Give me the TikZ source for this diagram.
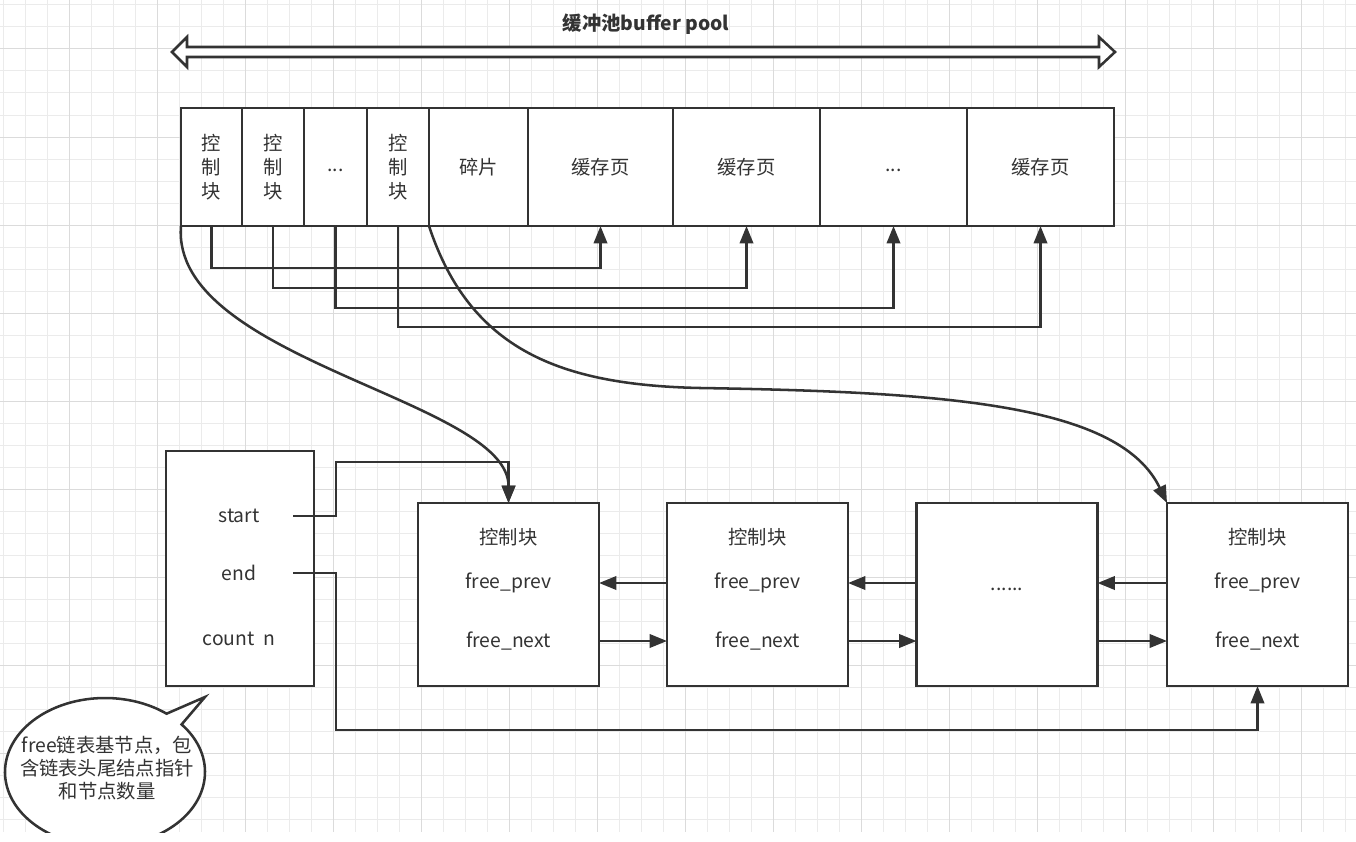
\documentclass[tikz,border=0pt]{standalone}
\usepackage{fontspec}
\setmainfont{Noto Sans CJK SC}
\usetikzlibrary{arrows.meta,positioning,calc}
\tikzset{
	ln/.style={draw=black!80, line width=1.9pt},
	cell/.style={ln, fill=white, minimum height=88.5pt, inner sep=0pt, outer sep=0pt, align=center},
	lnode/.style={ln, fill=white, minimum width=135.75pt, minimum height=137.25pt, inner sep=0pt, outer sep=0pt},
	arr/.style={ln, -{Triangle[length=13pt,width=10pt]}},
	gridminor/.style={draw=black!8, line width=0.75pt},
	gridmajor/.style={draw=black!14, line width=0.75pt},
}

\begin{document}
\begin{tikzpicture}[x=0.75pt, y=-0.75pt, every node/.style={font=\fontsize{14.5}{18}\selectfont, text=black!80}]
		%%%%% START %%%%%
		\useasboundingbox (0,0) rectangle (1356,842);
		\fill[white] (0,0) rectangle (1356,842);
		
		\foreach \gx in {3,25,...,1345} \draw[gridminor] (\gx,0) -- (\gx,832);
		\foreach \gy in {5,27,...,819} \draw[gridminor] (0,\gy) -- (1356,\gy);
		\foreach \gx in {69,157,...,1301} \draw[gridmajor] (\gx,0) -- (\gx,832);
		\foreach \gy in {49,137,...,753} \draw[gridmajor] (0,\gy) -- (1356,\gy);
		
		\node[font=\fontsize{14.5}{18}\selectfont\bfseries] (ttl) at (646,24) {缓冲池buffer pool};
		\draw[ln, fill=white, line join=miter] (187,47) -- (1099,47) -- (1099,37) -- (1115,52) -- (1099,67) -- (1099,57) -- (187,57) -- (187,67) -- (172,52) -- (187,37) -- cycle;
		
		\node[cell, minimum width=45.75pt, anchor=west] (c1) at (181,167) {控\\制\\块};
		\node[cell, minimum width=46.5pt, right=0pt of c1] (c2) {控\\制\\块};
		\node[cell, minimum width=47.25pt, right=0pt of c2] (c3) {...\strut};
		\node[cell, minimum width=46.5pt, right=0pt of c3] (c4) {控\\制\\块};
		\node[cell, minimum width=74.25pt, right=0pt of c4] (frag) {碎片};
		\node[cell, minimum width=108.75pt, right=0pt of frag] (p1) {缓存页};
		\node[cell, minimum width=110.25pt, right=0pt of p1] (p2) {缓存页};
		\node[cell, minimum width=110.25pt, right=0pt of p2] (p3) {...\strut};
		\node[cell, minimum width=110.25pt, right=0pt of p3] (p4) {缓存页};
		
		\draw[arr] (c1.south) -- ++(0,42) -| (p1.south);
		\draw[arr] (c2.south) -- ++(0,62) -| (p2.south);
		\draw[arr] (c3.south) -- ++(0,82) -| (p3.south);
		\draw[arr] (c4.south) -- ++(0,101) -| (p4.south);
		
		\node[lnode, minimum width=111pt, minimum height=176.25pt] (hd) at (240,568.5) {};
		\node (st) at (239,516) {start};
		\node (en) at (239,573) {end};
		\node (cnt) at (239,639) {count\ \ n};
		
		\node[lnode] (cb1) at (508.5,594.5) {};
		\node[lnode] (cb2) at (757.5,594.5) {};
		\node[lnode] (cbm) at (1007,594.5) {};
		\node[lnode] (cb4) at (1257.5,594.5) {};
		\node[anchor=base] (dots) at (1007,590) {......};
		\foreach \n in {cb1,cb2,cb4} {
			\node (tt\n) at ($(\n.north)+(0,34)$) {控制块};
			\node (pv\n) at ($(\n.north)+(0,80)$) {free\_prev};
			\node (nx\n) at ($(\n.north)+(0,138)$) {free\_next};
		}
		
		\draw[arr] (cb2.west |- pvcb1) -- (cb1.east |- pvcb1);
		\draw[arr] (cb1.east |- nxcb1) -- (cb2.west |- nxcb1);
		\draw[arr] (cbm.west |- pvcb1) -- (cb2.east |- pvcb1);
		\draw[arr] (cb2.east |- nxcb1) -- (cbm.west |- nxcb1);
		\draw[arr] (cb4.west |- pvcb1) -- (cbm.east |- pvcb1);
		\draw[arr] (cbm.east |- nxcb1) -- (cb4.west |- nxcb1);
		
		\coordinate (so) at (293,516);
		\coordinate (eo) at (293,573);
		\draw[arr] (so) -- ++(43,0) |- ($(cb1.north)+(0,-41)$) -- (cb1.north);
		\draw[arr] (eo) -- ++(43,0) |- ($(cb4.south)+(0,44)$) -- (cb4.south);
		
		\draw[arr] (c1.south west) .. controls (170,360) and (509,400) .. (cb1.north);
		\draw[arr] (c4.south east) .. controls (470,350) and (560,385) .. (700,388) .. controls (950,392) and (1120,405) .. (cb4.north west);
		
		\begin{scope}
			\clip (0,0) rectangle (1356,832);
			\draw[ln, fill=white] (205,697) -- ($(105,772)+(-40:100 and 74)$) arc[start angle=-40, end angle=308, x radius=100, y radius=74] -- cycle;
		\end{scope}
		\node[align=center, font=\fontsize{14.5}{17.25}\selectfont] (note) at (107,768) {free链表基节点，包\\含链表头尾结点指针\\和节点数量};
		%%%%% END %%%%%
	\end{tikzpicture}
\end{document}
